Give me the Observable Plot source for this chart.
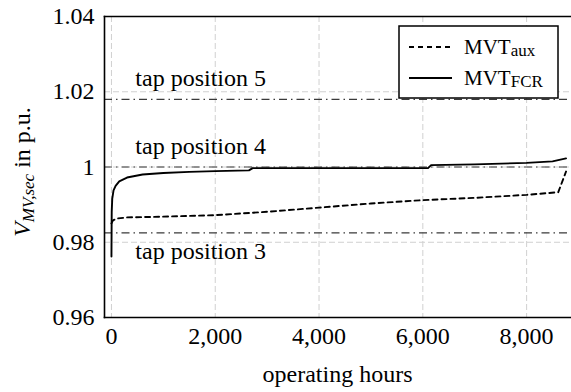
<!DOCTYPE html>
<html>
<head>
<meta charset="utf-8">
<script src="https://cdn.jsdelivr.net/npm/d3@7"></script>
<script src="https://cdn.jsdelivr.net/npm/@observablehq/plot@0.6"></script>
<style>
  html, body { margin: 0; padding: 0; background: white; }
  #chart { width: 571px; height: 392px; }
</style>
</head>
<body>
<div id="chart"></div>
<script>
// ---- data ----
const fcrHours = [0, 5, 15, 40, 80, 150, 300, 600, 1000, 1500, 2000, 2650, 2720, 4000, 6100, 6160, 7000, 8000, 8500, 8760];
const fcrValues = [0.9762, 0.9880, 0.9915, 0.9938, 0.9950, 0.9962, 0.9972, 0.9980, 0.9984, 0.9987, 0.9989, 0.9991, 0.9997, 0.9997, 0.9997, 1.0005, 1.0007, 1.0011, 1.0015, 1.0023];
const auxHours = [0, 30, 100, 300, 1000, 2000, 3000, 4000, 5000, 6000, 7000, 8000, 8610, 8760];
const auxValues = [0.9850, 0.9858, 0.9863, 0.9866, 0.9868, 0.9872, 0.9881, 0.9892, 0.9903, 0.9912, 0.9918, 0.9926, 0.9933, 0.9988];
const tapValues = [1.018, 1.0, 0.9825];
const tapLabels = ["tap position 5", "tap position 4", "tap position 3"];
const tapLabelHour = 460;
const xTicks = [0, 2000, 4000, 6000, 8000];
const xTickLabels = ["0", "2,000", "4,000", "6,000", "8,000"];
const yTicks = [0.96, 0.98, 1.0, 1.02, 1.04];
const yTickLabels = ["0.96", "0.98", "1", "1.02", "1.04"];
const seriesNames = ["MVT", "MVT"];
const seriesSubs = ["aux", "FCR"];
const xLabel = "operating hours";

const fcr = fcrHours.map((h, i) => ({h, v: fcrValues[i]}));
const aux = auxHours.map((h, i) => ({h, v: auxValues[i]}));
const taps = tapValues.map((v, i) => ({v, label: tapLabels[i], h: tapLabelHour, below: i === 2}));

const font = "'Liberation Serif', 'Times New Roman', serif";
const fs = 24;

const plot = Plot.plot({
  width: 571,
  height: 392,
  marginLeft: 104,
  marginRight: 0,
  marginTop: 16,
  marginBottom: 75,
  style: {fontFamily: font, fontSize: fs + "px", background: "white", color: "black"},
  x: {domain: [-134, 8865]},
  y: {domain: [0.96, 1.04]},
  marks: [
    Plot.gridX(xTicks, {stroke: "#d0d0d0", strokeOpacity: 1, strokeDasharray: "6,3", strokeWidth: 1}),
    Plot.gridY(yTicks, {stroke: "#d0d0d0", strokeOpacity: 1, strokeDasharray: "6,3", strokeWidth: 1}),
    Plot.ruleY(tapValues, {stroke: "#3a3a3a", strokeWidth: 1.2, strokeDasharray: "8,4,1.5,4"}),
    Plot.text(taps.filter(d => !d.below), {x: "h", y: "v", text: "label", textAnchor: "start", dy: -21, fontSize: fs, fill: "black"}),
    Plot.text(taps.filter(d => d.below), {x: "h", y: "v", text: "label", textAnchor: "start", dy: 18, fontSize: fs, fill: "black"}),
    Plot.line(aux, {x: "h", y: "v", stroke: "black", strokeWidth: 1.9, strokeDasharray: "5,4"}),
    Plot.line(fcr, {x: "h", y: "v", stroke: "black", strokeWidth: 1.9}),
    Plot.axisX({ticks: xTicks, tickFormat: (d) => xTickLabels[xTicks.indexOf(d)], tickSize: 0, tickPadding: 9, label: null, fontSize: fs}),
    Plot.axisY({ticks: yTicks, tickFormat: (d) => yTickLabels[yTicks.findIndex(t => Math.abs(t - d) < 1e-9)], tickSize: 0, tickPadding: 10, label: null, fontSize: fs}),
    Plot.frame({anchor: "left", stroke: "black", strokeWidth: 1.6}),
    Plot.frame({anchor: "top", stroke: "black", strokeWidth: 1.6}),
    Plot.frame({anchor: "bottom", stroke: "black", strokeWidth: 1.6})
  ]
});

document.getElementById("chart").appendChild(plot);

const svg = d3.select(plot);
// x label
svg.append("text")
  .attr("x", 337.5).attr("y", 382)
  .attr("text-anchor", "middle")
  .attr("font-family", font).attr("font-size", fs)
  .text(xLabel);

// y label
const yl = svg.append("text")
  .attr("transform", "translate(30,172) rotate(-90)")
  .attr("text-anchor", "middle")
  .attr("font-family", font).attr("font-size", fs);
yl.append("tspan").attr("font-style", "italic").text("V");
yl.append("tspan").attr("font-style", "italic").attr("font-size", 17).attr("dy", 4).text("MV,sec");
yl.append("tspan").attr("dy", -4).text(" in p.u.");

// legend
const lg = svg.append("g");
lg.append("rect").attr("x", 399).attr("y", 26).attr("width", 159).attr("height", 72)
  .attr("fill", "white").attr("stroke", "black").attr("stroke-width", 1.5);
const ly = [47, 78];
const dashes = ["5,4", null];
ly.forEach((y, i) => {
  const l = lg.append("line").attr("x1", 409).attr("x2", 452).attr("y1", y).attr("y2", y)
    .attr("stroke", "black").attr("stroke-width", 1.9);
  if (dashes[i]) l.attr("stroke-dasharray", dashes[i]);
  const t = lg.append("text").attr("x", 464).attr("y", y + 7)
    .attr("text-anchor", "start")
    .attr("font-family", font).attr("font-size", 21);
  t.append("tspan").text(seriesNames[i]);
  t.append("tspan").attr("font-size", 17).attr("dy", 2).text(seriesSubs[i]);
});
</script>
</body>
</html>
